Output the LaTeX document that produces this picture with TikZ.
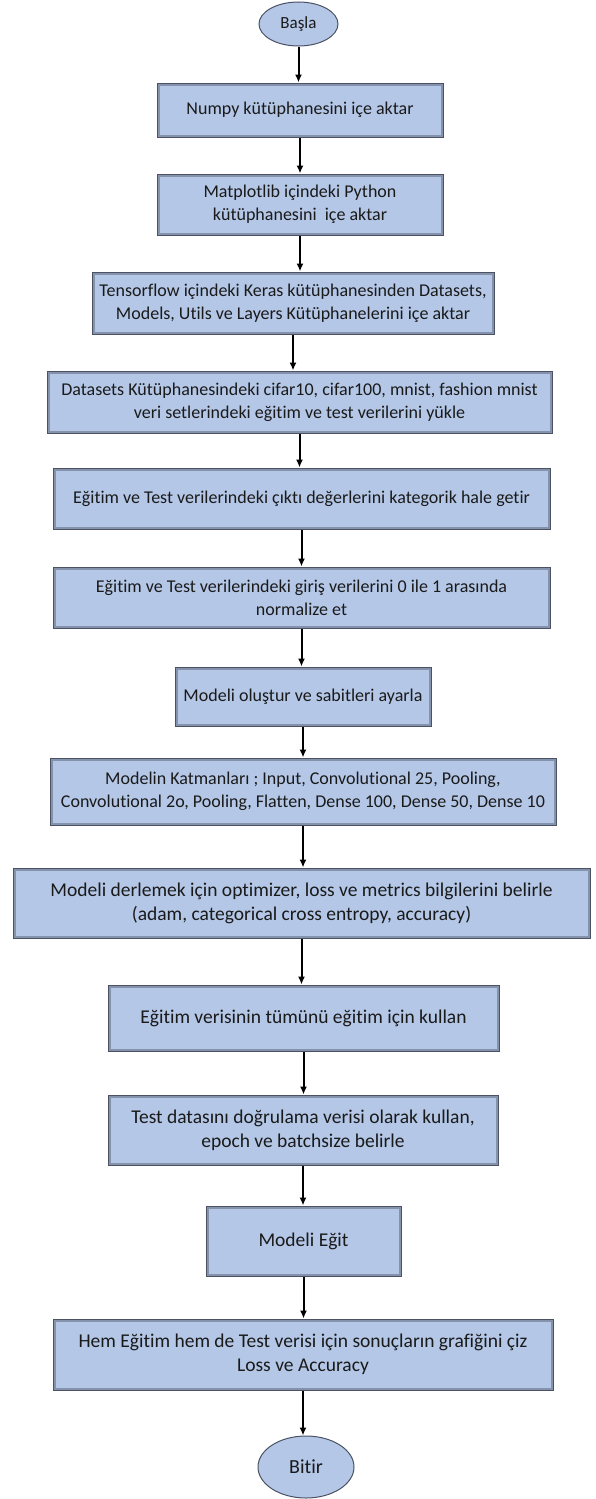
\documentclass[tikz,border=0pt]{standalone}
\usepackage{fontspec}
\setmainfont{Carlito}[Ligatures=NoCommon]
\usetikzlibrary{shapes.geometric,arrows.meta}

\definecolor{boxblue}{HTML}{B4C7E7}
\definecolor{boxrim}{HTML}{4A5263}
\definecolor{txtdark}{HTML}{1A1A1A}

\begin{document}
\begin{tikzpicture}[x=1pt,y=-1pt,
    flowbox/.style={rectangle,draw=boxrim,line width=1pt,fill=boxblue,
        align=center,inner sep=0pt,text=txtdark,
        font=\fontsize{18}{23}\selectfont,
        path picture={\draw[boxrim,opacity=.45,line width=5pt]
            (path picture bounding box.south west) rectangle
            (path picture bounding box.north east);}},
    bigbox/.style={flowbox,font=\fontsize{19.5}{24}\selectfont},
    termnode/.style={ellipse,draw=boxrim,line width=1pt,fill=boxblue,
        inner sep=0pt,text=txtdark},
    flowarrow/.style={line width=2pt,-{Latex[length=8pt,width=7pt]}}]

    \useasboundingbox (0,0) rectangle (595,1499);

    % Start and end
    \node [termnode,minimum width=79,minimum height=44,font=\fontsize{17}{20}\selectfont]
        (start) at (298.5,24) {Başla};
    \node [termnode,minimum width=96,minimum height=62,font=\fontsize{20}{24}\selectfont]
        (stop) at (306,1467) {Bitir};

    % Import steps
    \node [flowbox,minimum width=286,minimum height=54] (numpy) at (300,110)
        {Numpy kütüphanesini içe aktar};
    \node [flowbox,minimum width=286,minimum height=61] (matplot) at (300,204.5)
        {Matplotlib içindeki Python\\kütüphanesini\ \ içe aktar};
    \node [flowbox,minimum width=402,minimum height=62] (keras) at (293,303)
        {Tensorflow içindeki Keras kütüphanesinden Datasets,\\Models, Utils ve Layers Kütüphanelerini içe aktar};

    % Data preparation
    \node [flowbox,minimum width=505,minimum height=62] (load) at (299.5,402)
        {Datasets Kütüphanesindeki cifar10, cifar100, mnist, fashion mnist\\veri setlerindeki eğitim ve test verilerini yükle};
    \node [flowbox,minimum width=497,minimum height=61] (categ) at (301.5,498.5)
        {Eğitim ve Test verilerindeki çıktı değerlerini kategorik hale getir};
    \node [flowbox,minimum width=497,minimum height=61] (norm) at (301.5,597.5)
        {Eğitim ve Test verilerindeki giriş verilerini 0 ile 1 arasında\\normalize et};

    % Model
    \node [flowbox,minimum width=256,minimum height=59] (build) at (303,696.5)
        {Modeli oluştur ve sabitleri ayarla};
    \node [flowbox,minimum width=506,minimum height=67] (layers) at (303,791.5)
        {Modelin Katmanları ; Input, Convolutional 25, Pooling,\\Convolutional 2o, Pooling, Flatten, Dense 100, Dense 50, Dense 10};
    \node [bigbox,minimum width=577,minimum height=70] (compile) at (301.5,903)
        {Modeli derlemek için optimizer, loss ve metrics bilgilerini belirle\\(adam, categorical cross entropy, accuracy)};

    % Training and results
    \node [bigbox,minimum width=391,minimum height=66] (trainset) at (303.5,1018)
        {Eğitim verisinin tümünü eğitim için kullan};
    \node [bigbox,minimum width=390,minimum height=70] (valset) at (303,1130)
        {Test datasını doğrulama verisi olarak kullan,\\epoch ve batchsize belirle};
    \node [bigbox,minimum width=195,minimum height=70] (fit) at (303.5,1241)
        {Modeli Eğit};
    \node [bigbox,minimum width=500,minimum height=71] (plot) at (303,1354.5)
        {Hem Eğitim hem de Test verisi için sonuçların grafiğini çiz\\Loss ve Accuracy};

    % Connectors
    \foreach \a/\b in {start/numpy, numpy/matplot, matplot/keras, keras/load,
        load/categ, categ/norm, norm/build, build/layers, layers/compile,
        compile/trainset, trainset/valset, valset/fit, fit/plot, plot/stop} {
        \draw [flowarrow] (\a.south) -- (\a.south |- \b.north);
    }

\end{tikzpicture}
\end{document}
